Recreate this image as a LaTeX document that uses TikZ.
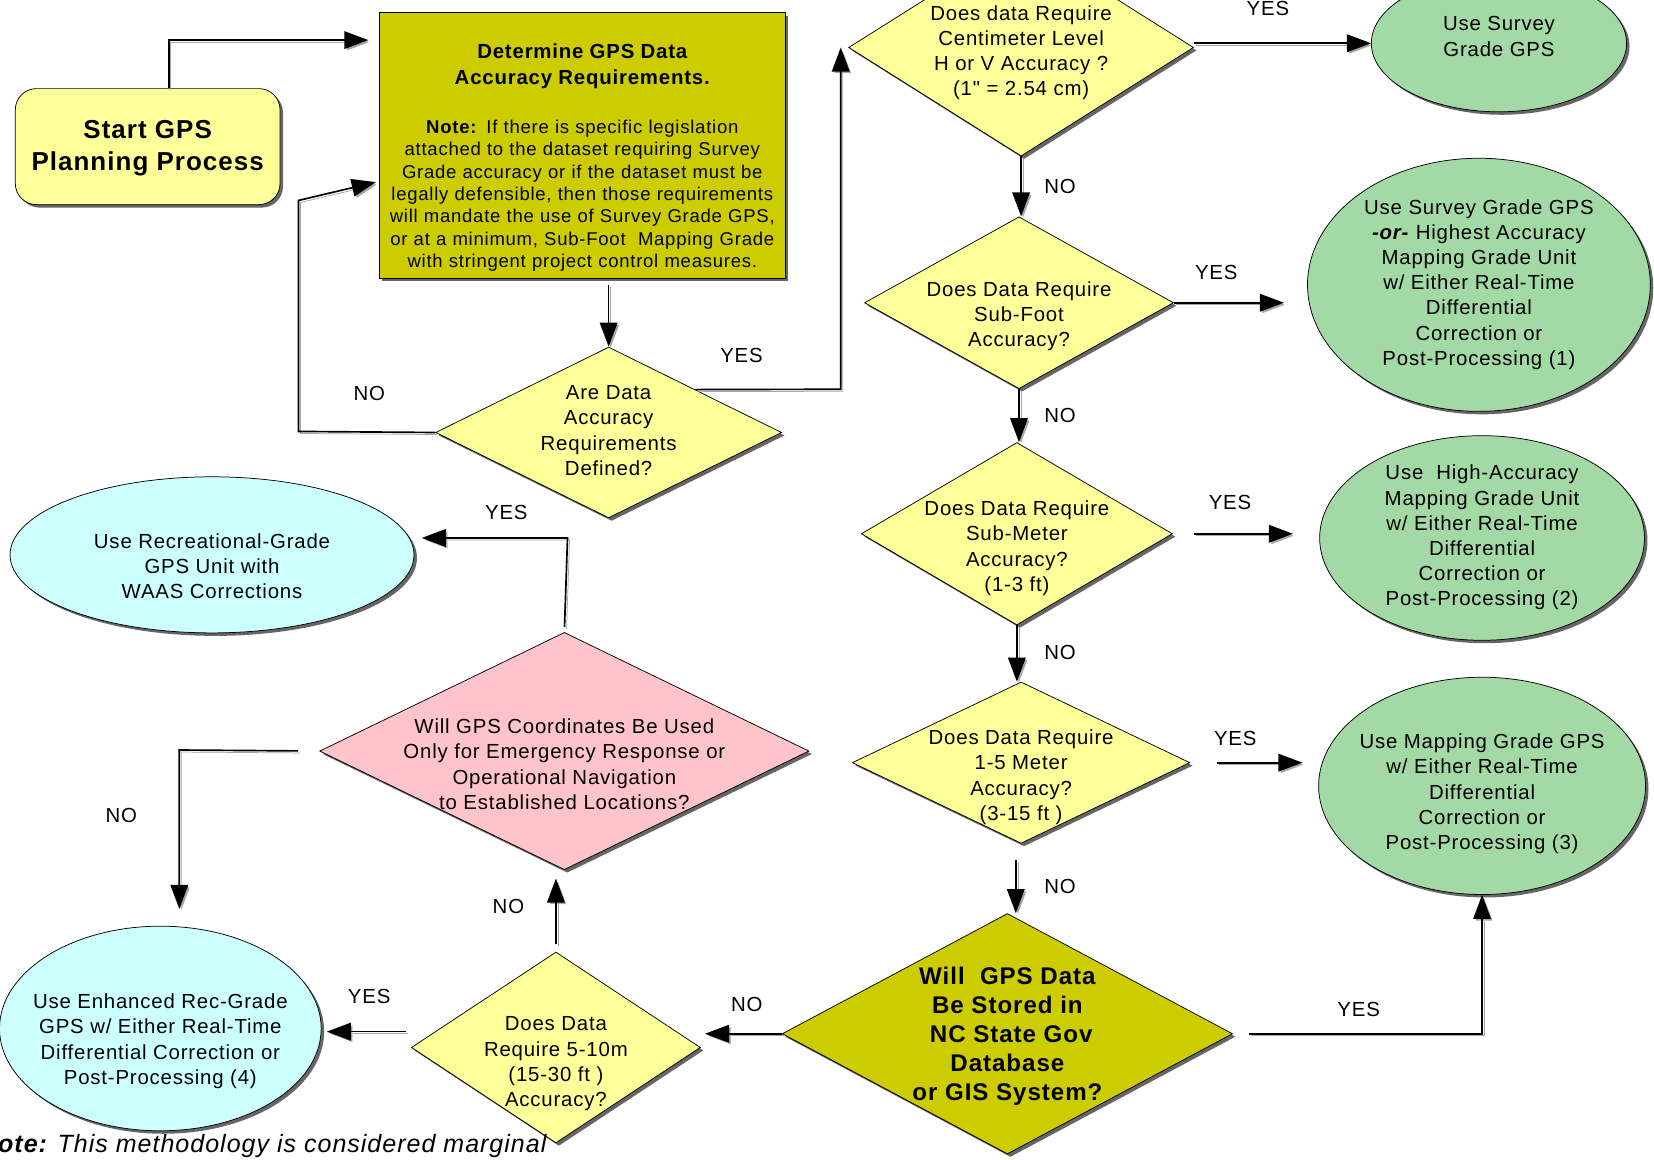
\documentclass[tikz,border=0pt]{standalone}
\usepackage{fontspec}
\setmainfont{Liberation Sans}[LetterSpace=4,Ligatures=TeXOff]
\usetikzlibrary{shapes.geometric,arrows.meta,shadows}
\definecolor{paleyel}{HTML}{FFFF99}
\definecolor{darkyel}{HTML}{CCCC00}
\definecolor{mint}{HTML}{A3D9A5}
\definecolor{palecyan}{HTML}{CCFFFF}
\definecolor{palepink}{HTML}{FFC4CA}
\newcommand{\ctext}[2][0pt]{\smash{\makebox[0pt]{\raisebox{\dimexpr#1-2.7pt\relax}{\begin{tabular}{@{}c@{}}#2\end{tabular}}}}}

\begin{document}
\begin{tikzpicture}[x=0.02cm,y=-0.02cm,
  shad/.style={drop shadow={shadow xshift=1.6pt,shadow yshift=-1.6pt,fill=black!60,opacity=1}},
  dec/.style={draw,diamond,inner sep=0pt,fill=paleyel,shad,font=\fontsize{11}{13.6}\selectfont},
  res/.style={draw,ellipse,inner sep=0pt,fill=mint,shad,font=\fontsize{11}{13.6}\selectfont},
  lab/.style={font=\fontsize{11}{13.6}\selectfont},
  conn/.style={draw,line width=0.9pt,-{Triangle[length=13pt,width=9.5pt]},
    preaction={draw=black!35,-{Triangle[length=13pt,width=9.5pt]},transform canvas={shift={(1.1pt,-1.1pt)}}}}]
\useasboundingbox (0,0) rectangle (1568,1099);
\clip (0,0) rectangle (1568,1099);

\node[draw,rectangle,rounded corners=0.4cm,fill=paleyel,shad,minimum width=5.02cm,minimum height=2.2cm,inner sep=0pt,font=\bfseries\fontsize{14}{17}\selectfont] (start) at (140,139) {\ctext[-1.7pt]{Start GPS\\Planning Process}};
\node[draw,rectangle,fill=darkyel,shad,minimum width=7.7cm,minimum height=5.04cm,inner sep=0pt,text width=7.6cm,align=center,font=\fontsize{10}{12.1}\selectfont] (det) at (552,138) {{\bfseries\fontsize{11}{14.2}\selectfont\rule{0pt}{21pt}Determine GPS Data\\Accuracy Requirements.\par}\vspace{14pt}
\textbf{Note:} If there is specific legislation\\
attached to the dataset requiring Survey\\
Grade accuracy or if the dataset must be\\
legally defensible, then those requirements\\
will mandate the use of Survey Grade GPS,\\
or at a minimum, Sub-Foot\ \ Mapping Grade\\
with stringent project control measures.};

\node[dec,minimum width=6.56cm,minimum height=3.24cm] (are) at (577,410) {\ctext{Are Data\\Accuracy\\Requirements\\Defined?}};
\node[dec,minimum width=6.54cm,minimum height=4.12cm] (cm) at (968,45) {\ctext[-3pt]{Does data Require\\Centimeter Level\\H or V Accuracy ?\\(1" = 2.54 cm)}};
\node[dec,minimum width=5.86cm,minimum height=3.26cm] (sf) at (966,287) {\ctext[-7.5pt]{Does Data Require\\Sub-Foot\\Accuracy?}};
\node[dec,minimum width=5.9cm,minimum height=3.46cm] (sm) at (964,506) {\ctext[-8pt]{Does Data Require\\Sub-Meter\\Accuracy?\\(1-3 ft)}};
\node[dec,minimum width=6.4cm,minimum height=3.06cm] (m15) at (968,723) {\ctext[-8pt]{Does Data Require\\1-5 Meter\\Accuracy?\\(3-15 ft )}};
\node[dec,fill=darkyel,minimum width=8.54cm,minimum height=4.56cm,font=\bfseries\fontsize{13}{15.6}\selectfont] (nc) at (955,980) {\ctext[-2pt]{Will\ \ GPS Data\\Be Stored in\\\ NC State Gov\\Database\\or GIS System?}};
\node[dec,minimum width=5.48cm,minimum height=3.62cm] (d510) at (527,993) {\ctext[-8.8pt]{Does Data\\Require 5-10m\\(15-30 ft )\\Accuracy?}};
\node[dec,fill=palepink,minimum width=9.28cm,minimum height=4.5cm] (pink) at (535,712) {\ctext[-8.3pt]{Will GPS Coordinates Be Used\\Only for Emergency Response or\\Operational Navigation\\to Established Locations?}};

\node[res,minimum width=4.84cm,minimum height=2.6cm] (sv) at (1421,41) {\ctext[2.5pt]{Use Survey\\Grade GPS}};
\node[res,minimum width=6.5cm,minimum height=4.8cm] (gr1) at (1402,270) {\ctext{Use Survey Grade GPS\\\textbf{\textit{-or-}} Highest Accuracy\\Mapping Grade Unit\\w/ Either Real-Time\\Differential\\Correction or\\Post-Processing (1)}};
\node[res,minimum width=6.16cm,minimum height=3.88cm] (gr2) at (1405,510) {\ctext{Use\ \ High-Accuracy\\Mapping Grade Unit\\w/ Either Real-Time\\Differential\\Correction or\\Post-Processing (2)}};
\node[res,minimum width=6.2cm,minimum height=4.12cm] (gr3) at (1405,745) {\ctext[-4.5pt]{Use Mapping Grade GPS\\w/ Either Real-Time\\Differential\\Correction or\\Post-Processing (3)}};
\node[res,fill=palecyan,minimum width=7.66cm,minimum height=2.96cm] (cy1) at (201,526) {\ctext[-7.5pt]{Use Recreational-Grade\\GPS Unit with\\WAAS Corrections}};
\node[res,fill=palecyan,minimum width=6.1cm,minimum height=3.88cm] (cy2) at (152,975) {\ctext[-7pt]{Use Enhanced Rec-Grade\\GPS w/ Either Real-Time\\Differential Correction or\\Post-Processing (4)}};

\node[anchor=base west,font=\itshape\fontsize{13.5}{16}\selectfont] (note) at (-26,1093) {\textbf{Note:} This methodology is considered marginal};

\node[lab] (l1) at (350,373) {NO};
\node[lab] (l2) at (703,337) {YES};
\node[lab] (l3) at (1202,8) {YES};
\node[lab] (l4) at (1005,177) {NO};
\node[lab] (l5) at (1153,258) {YES};
\node[lab] (l6) at (1005,394) {NO};
\node[lab] (l7) at (1166,476) {YES};
\node[lab] (l8) at (1005,619) {NO};
\node[lab] (l9) at (1171,700) {YES};
\node[lab] (l10) at (1005,840) {NO};
\node[lab] (l11) at (1288,957) {YES};
\node[lab] (l12) at (708,952) {NO};
\node[lab] (l13) at (350,945) {YES};
\node[lab] (l14) at (482,859) {NO};
\node[lab] (l15) at (480,486) {YES};
\node[lab] (l16) at (115,773) {NO};

\coordinate (s1) at (160,38);
\coordinate (n1) at (283,409);
\coordinate (n2) at (283,190);
\coordinate (y1) at (797,369);
\coordinate (p1) at (538,510);
\coordinate (p2) at (170,711);

\path[conn,shorten >=0.2cm] ([xshift=0.4cm]start.north) |- (det.west |- s1);
\path[conn,shorten <=0.12cm] (det.south -| are.north) -- (are.north);
\path[conn,shorten >=0.06cm] (are.west) -- (n1) -- (n2) -- ([yshift=-0.68cm]det.west);
\path[conn] (are.north east) -- (y1) -- (y1 |- cm.west);
\path[conn] ([yshift=0.08cm]cm.east) -- ([yshift=0.08cm]cm.east -| sv.west);
\path[conn] (cm.south) -- (cm.south |- sf.north);
\path[conn,shorten >=0.44cm] (sf.east) -- (sf.east -| gr1.west);
\path[conn] (sf.south) -- (sf.south |- sm.north);
\path[conn,shorten <=0.4cm,shorten >=0.5cm] (sm.east) -- (sm.east -| gr2.west);
\path[conn] (sm.south) -- (sm.south |- m15.north);
\path[conn,shorten <=0.5cm,shorten >=0.3cm] (m15.east) -- (m15.east -| gr3.west);
\path[conn,shorten <=0.3cm] ([xshift=-0.1cm]m15.south) -- ([xshift=-0.1cm]m15.south |- nc.north);
\path[conn,shorten <=0.3cm] (nc.east) -| (gr3.south);
\path[conn,shorten >=0.08cm] (nc.west) -- (nc.west -| d510.east);
\path[conn,shorten <=0.1cm,shorten >=0.1cm] ([yshift=0.3cm]d510.west) -- ([yshift=0.3cm]d510.west -| cy2.east);
\path[conn,shorten <=0.14cm,shorten >=0.16cm] (d510.north) -- (d510.north |- pink.south);
\path[conn,shorten <=0.1cm,shorten >=0.14cm] (pink.north) -- (p1) -- (p1 -| cy1.east);
\path[conn,shorten <=0.4cm,shorten >=0.32cm] (pink.west) -- (p2) -- (p2 |- cy2.north);
\end{tikzpicture}
\end{document}
